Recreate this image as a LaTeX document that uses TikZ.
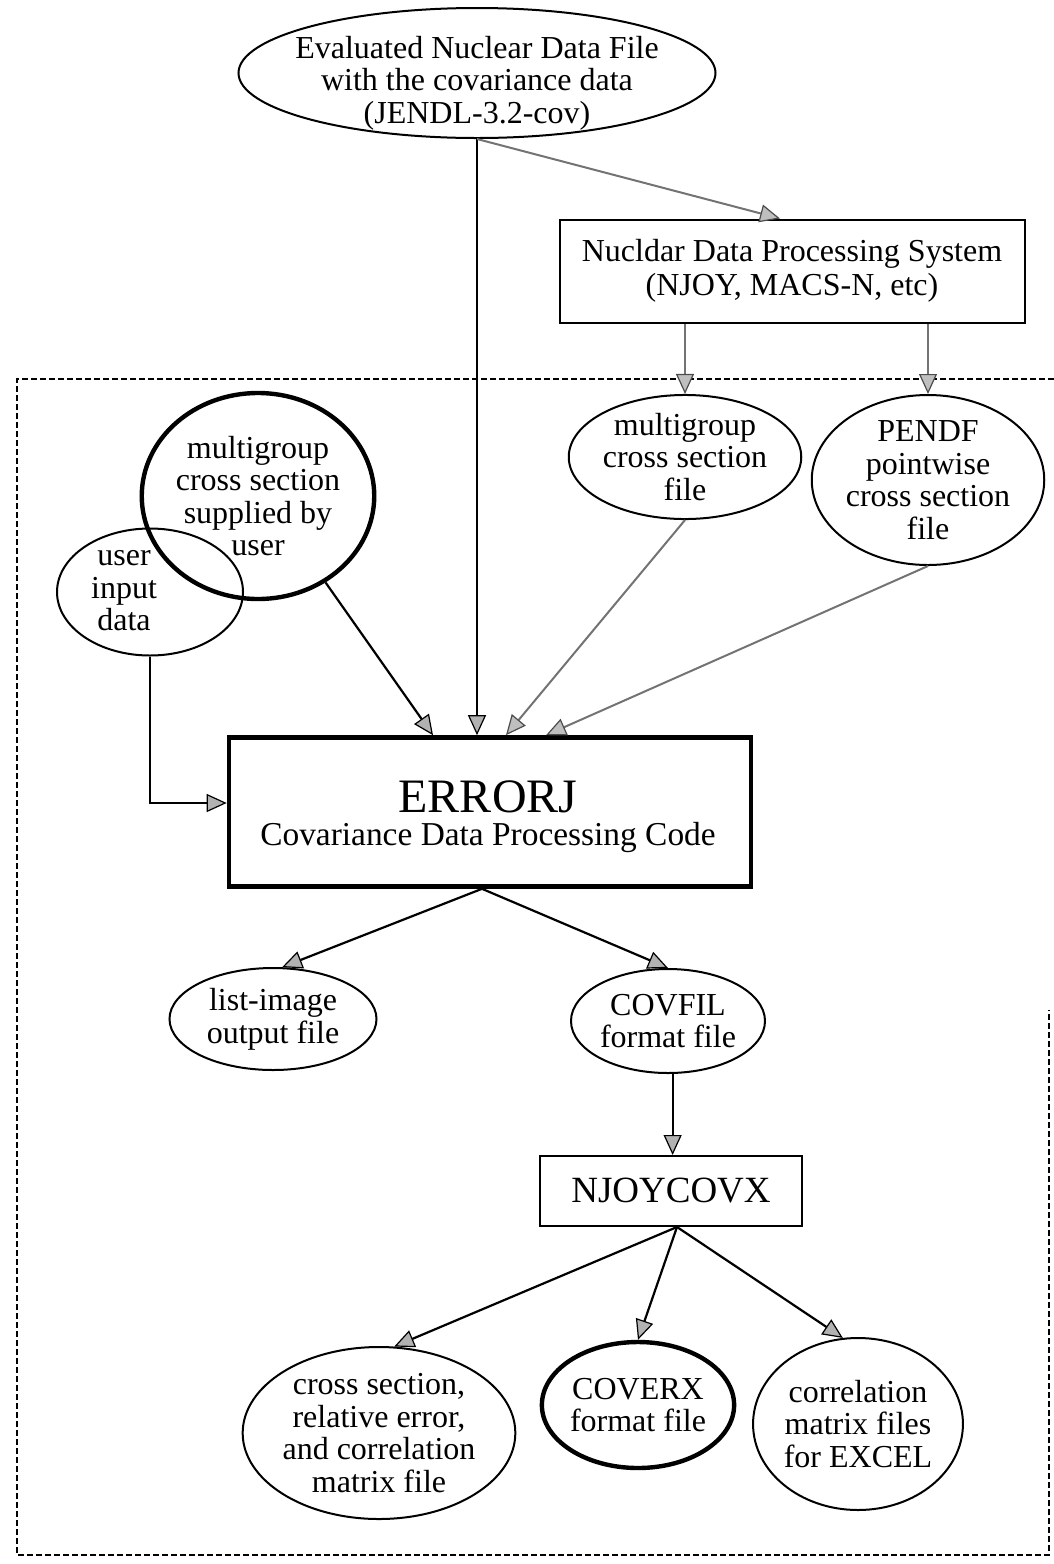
\documentclass[tikz,border=0pt]{standalone}
\usepackage{fontspec}
\setmainfont{Liberation Serif}
\usetikzlibrary{shapes.geometric,arrows.meta,calc}
\begin{document}
\begin{tikzpicture}[x=0.5pt,y=-0.5pt,
  txt/.style={font=\fontsize{16}{16.3}\selectfont, align=center, inner sep=0pt},
  oval/.style={txt, ellipse, draw, line width=1pt},
  thickoval/.style={oval, line width=2.2pt},
  boxn/.style={txt, rectangle, draw, line width=1pt},
  headk/.style={-{Triangle[length=10pt,width=9pt,fill=gray!60,color=black,line width=0.6pt]}},
  arr/.style={line width=1.1pt, headk},
  grayarr/.style={line width=1pt, draw=black!55, -{Triangle[length=10pt,width=9pt,fill=gray!50,color=black!70,line width=0.6pt]}},
  frame/.style={line width=0.8pt, dash pattern=on 3pt off 1.5pt}
]
\useasboundingbox (0,0) rectangle (1054,1564);

% frame
\draw[frame] (1054,379) -- (17,379) -- (17,1555) -- (1049,1555) -- (1049,1010);

% nodes
\node[oval, minimum width=238.5pt, minimum height=65pt] (eval) at (477,73) {};
\node[txt] (evaltext) at (477,83)
  {Evaluated Nuclear Data File\\with the covariance data\\(JENDL-3.2-cov)};
\node[boxn, font=\fontsize{16}{17}\selectfont, minimum width=232.5pt, minimum height=51.5pt] (njoy) at (792,271)
  {Nucldar Data Processing System\\(NJOY, MACS-N, etc)};
\node[oval, minimum width=112.5pt, minimum height=61pt] (mgfile) at (685,457)
  {multigroup\\cross section\\file};
\node[oval, minimum width=92pt, minimum height=85pt] (pendf) at (928,480)
  {PENDF\\pointwise\\cross section\\file};
\node[oval, minimum width=93pt, minimum height=63.5pt] (uinput) at (150,592) {};
\node[txt] (uinputtext) at (124,591) {user\\input\\data};
\node[thickoval, minimum width=103pt, minimum height=103pt] (mguser) at (258,496)
  {multigroup\\cross section\\supplied by\\user};
\node[boxn, line width=2.3pt, minimum width=261pt, minimum height=74.5pt] (errorj) at (490,812) {};
\node[txt, font=\fontsize{16.7}{16.5}\selectfont] (errorjtext) at (488,817)
  {{\fontsize{24}{24}\selectfont ERRORJ}\\Covariance Data Processing Code};
\node[oval, minimum width=103.5pt, minimum height=51pt] (listimg) at (273,1019)
  {list-image\\output file};
\node[oval, minimum width=97pt, minimum height=52pt] (covfil) at (668,1021)
  {COVFIL\\format file};
\node[boxn, font=\fontsize{18.5}{20}\selectfont, minimum width=131pt, minimum height=35pt] (njoycovx) at (671,1191)
  {NJOYCOVX};
\node[oval, minimum width=113pt, minimum height=86pt] (xsec) at (379,1433)
  {cross section,\\relative error,\\and correlation\\matrix file};
\node[thickoval, minimum width=93.5pt, minimum height=63pt] (coverx) at (638,1405)
  {COVERX\\format file};
\node[oval, minimum width=76pt, minimum height=86pt] (corr) at (858,1424)
  {correlation\\matrix files\\for EXCEL};

% helper points
\coordinate (eo) at ($(errorj.south)+(-8,0)$);
\coordinate (no) at ($(njoycovx.south)+(6,0)$);

% connectors
\draw[arr] (eval.south) -- (eval.south |- errorj.north);
\draw[grayarr] (eval.south) -- ($(njoy.north)+(-12,0)$);
\draw[grayarr] (njoy.south -| mgfile.north) -- (mgfile.north);
\draw[grayarr] (njoy.south -| pendf.north) -- (pendf.north);
\draw[grayarr] (mgfile.south) -- ($(errorj.north)+(16,0)$);
\draw[grayarr] (pendf.south) -- ($(errorj.north)+(56,0)$);
\draw[arr] (mguser.-52) -- ($(errorj.north)+(-57,0)$);
\draw[arr] (uinput.south) |- ($(errorj.west)+(0,-9)$);
\draw[arr] (eo) -- (listimg.80);
\draw[arr] (eo) -- (covfil.north);
\draw[arr] (covfil.-85) -- (covfil.-85 |- njoycovx.north);
\draw[arr] (no) -- (xsec.80);
\draw[arr] (no) -- (coverx.north);
\draw[arr] (no) -- (corr.100);
\end{tikzpicture}
\end{document}
